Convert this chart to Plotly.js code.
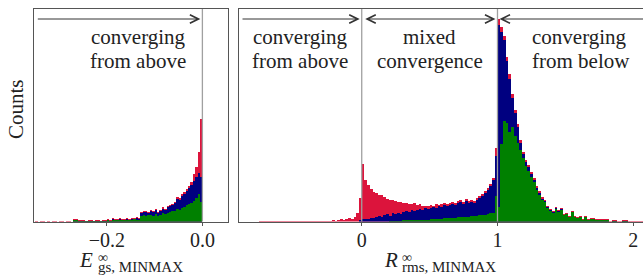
<!DOCTYPE html>
<html><head><meta charset="utf-8">
<script src="https://cdn.plot.ly/plotly-3.0.1.min.js"></script>
<style>html,body{margin:0;padding:0;overflow:hidden;background:#fff}#plot{width:660px;height:280px}</style>
</head><body><div id="plot"></div>
<script>
// ---- Left panel: E_gs histogram (bin start, bin width, heights in arbitrary counts) ----
const leftBinStart = -0.35, leftBinWidth = 0.005;
const leftRed = [1,0,1,1,0,1,0,1,1,0,1,1,0,1,1,0,
  3,3,2,2,2,1,2,2,1,2,2,1,2,2,3,2,4,3,3,4,3,3,4,3,4,4,5,4,
  10,11,11,10,12,11,13,10,12,15,13,16,17,18,20,25,24,28,30,33,36,40,48,55,70,103];
const leftBlue = [0,0,0,0,0,0,0,0,0,0,0,0,0,0,0,0,
  2,2,1,1,1,1,1,1,1,1,1,1,1,1,2,1,3,2,2,3,2,2,3,2,3,3,4,3,
  9,10,10,9,11,10,12,9,11,13,12,15,16,17,19,23,22,26,28,31,34,37,41,45,49,45];
const leftGreen = [0,0,0,0,0,0,0,0,0,0,0,0,0,0,0,0,
  2,2,1,1,1,1,1,1,1,1,1,1,1,1,2,1,2,2,2,2,2,2,2,2,2,3,2,2,
  6,7,6,7,7,6,8,6,7,9,8,9,10,11,11,13,12,14,15,17,18,19,21,24,28,20];

// ---- Right panel: R_rms histogram ----
const rightBinStart = -0.76, rightBinWidth = 0.02;
const rightRed = [1,1,1,1,1,1,1,1,1,1,1,1,1,1,1,1,1,1,1,1,1,1,1,1,1,1,
  1,2,1,2,3,2,3,4,3,5,9,24,
  58,42,37,33,30,29,27,27,25,23,22,22,21,20,20,19,19,18,18,19,17,18,16,16,16,17,16,18,17,18,19,18,19,20,19,21,22,20,23,21,22,21,24,26,28,31,34,38,44,74,
  203,195,186,165,148,128,112,98,82,70,62,57,50,44,36,31,25,22,16,13,11,15,12,
  14,8,9,6,11,6,5,6,3,6,3,4,4,3,3,3,3,3,1,2,2,1,1,2,2,1,1,1,1,1,1,1];
const rightBlue = [0,0,0,0,0,0,0,0,0,0,0,0,0,0,0,0,0,0,0,0,0,0,0,0,0,0,
  0,0,0,0,0,0,0,0,0,0,0,2,
  3,3,3,4,4,5,6,5,7,8,6,9,8,9,8,10,11,10,12,11,12,13,12,14,13,14,15,14,16,15,17,16,17,18,17,19,20,18,21,19,20,19,22,24,26,29,32,36,42,66,
  197,190,182,161,143,124,109,95,79,68,60,55,48,42,34,29,23,21,15,12,10,14,11,
  13,7,8,5,10,5,4,5,2,5,2,3,3,2,2,2,2,2,0,1,1,0,0,1,1,0,0,0,0,0,0,0];
const rightGreen = [0,0,0,0,0,0,0,0,0,0,0,0,0,0,0,0,0,0,0,0,0,0,0,0,0,0,
  0,0,0,0,0,0,0,0,0,0,0,0,
  0,0,0,0,0,0,0,0,0,0,1,1,1,1,1,2,2,2,2,2,2,2,2,2,2,3,3,3,3,3,4,4,4,4,4,5,5,5,5,5,6,6,6,7,7,7,8,9,9,26,
  15,78,101,99,90,95,86,79,72,64,56,51,45,40,32,27,22,20,14,11,9,13,10,
  12,7,8,5,10,5,4,5,2,5,2,3,3,2,2,2,2,2,0,1,1,0,0,1,1,0,0,0,0,0,0,0];

const leftTickVals = [-0.2, 0.0], leftTickText = ['\u22120.2', '0.0'];
const rightTickVals = [0, 1, 2], rightTickText = ['0', '1', '2'];
const colors = {red: '#DC143C', blue: '#000080', green: '#008000'};

const W = 660, H = 280;
function centers(start, width, n) { const c = []; for (let i = 0; i < n; i++) c.push(start + width * (i + 0.5)); return c; }
const lx = centers(leftBinStart, leftBinWidth, leftRed.length);
const rx = centers(rightBinStart, rightBinWidth, rightRed.length);
function bar(x, y, w, col, xa, ya) {
  return {type: 'bar', x: x, y: y, width: w, xaxis: xa, yaxis: ya,
    marker: {color: col, line: {width: 0}}, hoverinfo: 'skip'};
}
const data = [
  bar(lx, leftRed, leftBinWidth, colors.red, 'x', 'y'),
  bar(lx, leftBlue, leftBinWidth, colors.blue, 'x', 'y'),
  bar(lx, leftGreen, leftBinWidth, colors.green, 'x', 'y'),
  bar(rx, rightRed, rightBinWidth, colors.red, 'x2', 'y2'),
  bar(rx, rightBlue, rightBinWidth, colors.blue, 'x2', 'y2'),
  bar(rx, rightGreen, rightBinWidth, colors.green, 'x2', 'y2')
];

const FONT = 'Liberation Serif';
const frame = '#555';
const yDom = [1 - 221.5 / H, 1 - 9 / H];
const axBase = {showline: true, mirror: true, linecolor: frame, linewidth: 1, showgrid: false, zeroline: false, fixedrange: true};
const px = v => v / W, py = v => 1 - v / H;

function txt(text, x, y, xanchor, size, extra) {
  return Object.assign({text: text, x: px(x), y: py(y), xref: 'paper', yref: 'paper', xanchor: xanchor, yanchor: 'middle',
    showarrow: false, font: {family: FONT, size: size, color: '#222'}, borderpad: 0}, extra || {});
}
function arrow(x, ax, xref, side) {
  return {text: '', x: x, ax: ax, xref: xref, axref: xref, y: py(19), yref: 'paper', ay: 0, ayref: 'pixel',
    showarrow: true, arrowhead: 5, startarrowhead: 5, arrowside: side, arrowsize: 1.7, startarrowsize: 1.7, arrowwidth: 1,
    arrowcolor: '#333', standoff: 2, startstandoff: 2};
}
// stacked superscript / subscript in one text block (small base size keeps the two lines close)
function supSub(sup, sub) {
  return "<span style='font-size:14px'>" + sup + "</span><br><span style='font-size:15px'>" + sub + "</span>";
}

const annotations = [
  arrow(0, -0.352, 'x', 'end'),
  arrow(0, -0.904, 'x2', 'end'),
  arrow(1, 0, 'x2', 'end+start'),
  arrow(1, 2.197, 'x2', 'end'),
  txt('converging', 187, 37, 'right', 21),
  txt('from above', 187, 61, 'right', 21),
  txt('converging', 349, 37, 'right', 21),
  txt('from above', 349, 61, 'right', 21),
  txt('mixed', 429.5, 37, 'center', 21),
  txt('convergence', 429.5, 61, 'center', 21),
  txt('converging', 531, 37, 'left', 21),
  txt('from below', 531, 61, 'left', 21),
  txt('Counts', 16, 109, 'center', 21, {textangle: -90}),
  txt('<i>E</i>', 78, 260, 'left', 21),
  txt(supSub('\u221E', 'gs, MINMAX'), 97, 262, 'left', 8, {align: 'left'}),
  txt('<i>R</i>', 383, 260, 'left', 21),
  txt(supSub('\u221E', 'rms, MINMAX'), 401, 262, 'left', 8, {align: 'left'})
];

const shapes = [
  {type: 'line', xref: 'x', yref: 'y domain', x0: 0, x1: 0, y0: 0, y1: 1, layer: 'above', line: {color: '#a0a0a0', width: 1.3}},
  {type: 'line', xref: 'x2', yref: 'y2 domain', x0: 0, x1: 0, y0: 0, y1: 1, layer: 'above', line: {color: '#a0a0a0', width: 1.3}},
  {type: 'line', xref: 'x2', yref: 'y2 domain', x0: 1, x1: 1, y0: 0, y1: 1, layer: 'above', line: {color: '#a0a0a0', width: 1.3}}
];

const tickFont = {family: FONT, size: 20, color: '#222'};
const layout = {
  width: W, height: H, margin: {l: 0, r: 0, t: 0, b: 0},
  paper_bgcolor: '#fff', plot_bgcolor: '#fff', showlegend: false,
  barmode: 'overlay', bargap: 0,
  xaxis: Object.assign({}, axBase, {domain: [34.3 / W, 227.7 / W], range: [-0.352, 0.053], anchor: 'y',
    ticks: 'outside', ticklen: 3, tickcolor: frame, tickvals: leftTickVals, ticktext: leftTickText, tickfont: tickFont,
    ticklabelstandoff: -3}),
  yaxis: Object.assign({}, axBase, {domain: yDom, range: [0, 212.5], anchor: 'x', showticklabels: false, ticks: ''}),
  xaxis2: Object.assign({}, axBase, {domain: [239 / W, 1], range: [-0.904, 2.197], anchor: 'y2',
    ticks: 'outside', ticklen: 3, tickcolor: frame, tickvals: rightTickVals, ticktext: rightTickText, tickfont: tickFont,
    ticklabelstandoff: -3}),
  yaxis2: Object.assign({}, axBase, {domain: yDom, range: [0, 212.5], anchor: 'x2', showticklabels: false, ticks: ''}),
  annotations: annotations, shapes: shapes
};
Plotly.newPlot('plot', data, layout, {staticPlot: true, displayModeBar: false});
</script></body></html>
